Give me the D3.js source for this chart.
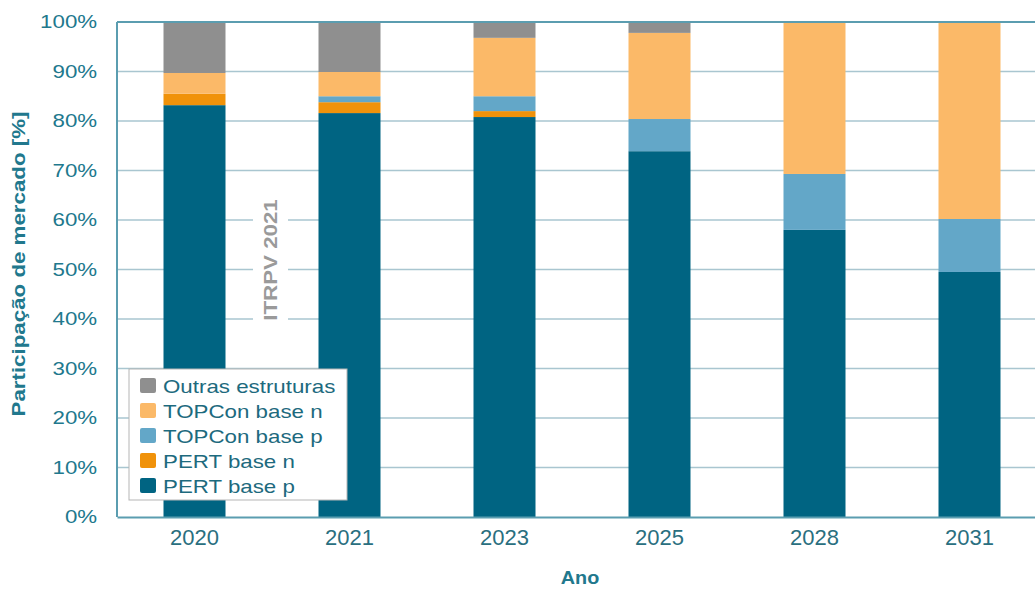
<!DOCTYPE html>
<html>
<head>
<meta charset="utf-8">
<script src="https://cdn.jsdelivr.net/npm/d3@7"></script>
<style>
  body { margin: 0; background: #fff; }
  text { font-family: "Liberation Sans", Arial, sans-serif; }
</style>
</head>
<body>
<svg width="1035" height="589"></svg>
<script>
const years = ["2020", "2021", "2023", "2025", "2028", "2031"];
const seriesNames = ["PERT base p", "PERT base n", "TOPCon base p", "TOPCon base n", "Outras estruturas"];
const pertP = [83.2, 81.6, 80.8, 73.9, 58.0, 49.5];
const pertN = [2.3, 2.2, 1.2, 0, 0, 0];
const topconP = [0, 1.2, 3.0, 6.5, 11.3, 10.7];
const topconN = [4.2, 4.9, 11.8, 17.4, 30.7, 39.8];
const outras = [10.3, 10.1, 3.2, 2.2, 0, 0];
const yTicks = [0, 10, 20, 30, 40, 50, 60, 70, 80, 90, 100];
const colors = ["#006482", "#f0920a", "#63a7c8", "#fbb968", "#8f8f8f"];

const table = years.map((y, i) => ({
  year: y,
  "PERT base p": pertP[i],
  "PERT base n": pertN[i],
  "TOPCon base p": topconP[i],
  "TOPCon base n": topconN[i],
  "Outras estruturas": outras[i]
}));

const mLeft = 117, mTop = 22, mBottom = 517, mRight = 1047;
const teal = "#21788d";
const wide = 1.24; // the source font runs wider than Arial

const svg = d3.select("svg");

const x = d3.scaleBand().domain(years).range([mLeft, mRight]).paddingInner(0.6).paddingOuter(0.3);
const y = d3.scaleLinear().domain([0, 100]).range([mBottom, mTop]);
const color = d3.scaleOrdinal().domain(seriesNames).range(colors);

// grid
svg.append("g")
  .selectAll("line")
  .data(yTicks.slice(1, -1))
  .join("line")
  .attr("x1", mLeft).attr("x2", mRight)
  .attr("y1", d => y(d)).attr("y2", d => y(d))
  .attr("stroke", "#a9c6d0").attr("stroke-width", 1.5);

// bars
const stack = d3.stack().keys(seriesNames)(table);
svg.append("g")
  .selectAll("g")
  .data(stack)
  .join("g")
  .attr("fill", d => color(d.key))
  .selectAll("rect")
  .data(d => d)
  .join("rect")
  .attr("x", d => x(d.data.year))
  .attr("y", d => y(d[1]))
  .attr("width", x.bandwidth())
  .attr("height", d => y(d[0]) - y(d[1]));

// frame lines
svg.append("line").attr("x1", mLeft).attr("x2", mRight).attr("y1", mTop).attr("y2", mTop)
  .attr("stroke", "#5b9db0").attr("stroke-width", 2);
svg.append("line").attr("x1", mLeft).attr("x2", mLeft).attr("y1", mTop).attr("y2", mBottom)
  .attr("stroke", "#5b9db0").attr("stroke-width", 2);

// axes
const yAxis = svg.append("g")
  .attr("transform", `translate(${mLeft},0)`)
  .call(d3.axisLeft(y).tickValues(yTicks).tickFormat(d => d + "%").tickSize(0).tickPadding(16));
yAxis.select(".domain").remove();
yAxis.selectAll("text").attr("fill", teal).attr("font-size", 18)
  .attr("transform", `scale(${wide},1)`);

const xAxis = svg.append("g")
  .attr("transform", `translate(0,${mBottom})`)
  .call(d3.axisBottom(x).tickSize(0).tickPadding(12));
xAxis.select(".domain").attr("stroke", "#5b9db0").attr("stroke-width", 2);
xAxis.selectAll("text").attr("fill", "#2a6f80").attr("font-size", 22);

// titles
svg.append("text")
  .attr("transform", `translate(580,584) scale(1.1,1)`)
  .attr("text-anchor", "middle")
  .attr("font-weight", "bold").attr("font-size", 18)
  .attr("fill", teal)
  .text("Ano");

svg.append("text")
  .attr("transform", `translate(25,264) rotate(-90) scale(${wide},1)`)
  .attr("text-anchor", "middle")
  .attr("font-weight", "bold").attr("font-size", 18)
  .attr("fill", teal)
  .text("Participação de mercado [%]");

// ITRPV label
const itr = svg.append("g").attr("transform", "translate(277,260) rotate(-90)");
itr.append("rect").attr("x", -70).attr("y", -24).attr("width", 140).attr("height", 35).attr("fill", "#fff");
itr.append("text")
  .attr("transform", `scale(${wide},1)`)
  .attr("text-anchor", "middle")
  .attr("font-size", 18).attr("font-weight", "bold")
  .attr("fill", "#9a9a9a")
  .text("ITRPV 2021");

// legend
const lg = svg.append("g").attr("transform", "translate(129,369)");
lg.append("rect").attr("width", 218).attr("height", 131)
  .attr("fill", "#fff").attr("stroke", "#b5b5b5").attr("stroke-width", 1);
const items = seriesNames.slice().reverse();
const row = lg.selectAll("g.item")
  .data(items)
  .join("g")
  .attr("class", "item")
  .attr("transform", (d, i) => `translate(11,${9 + i * 25})`);
row.append("rect").attr("width", 16).attr("height", 15).attr("rx", 2)
  .attr("fill", d => color(d));
row.append("text")
  .attr("transform", `translate(23,15) scale(${wide},1)`)
  .attr("font-size", 18).attr("fill", "#1d6a7e")
  .text(d => d);
</script>
</body>
</html>
